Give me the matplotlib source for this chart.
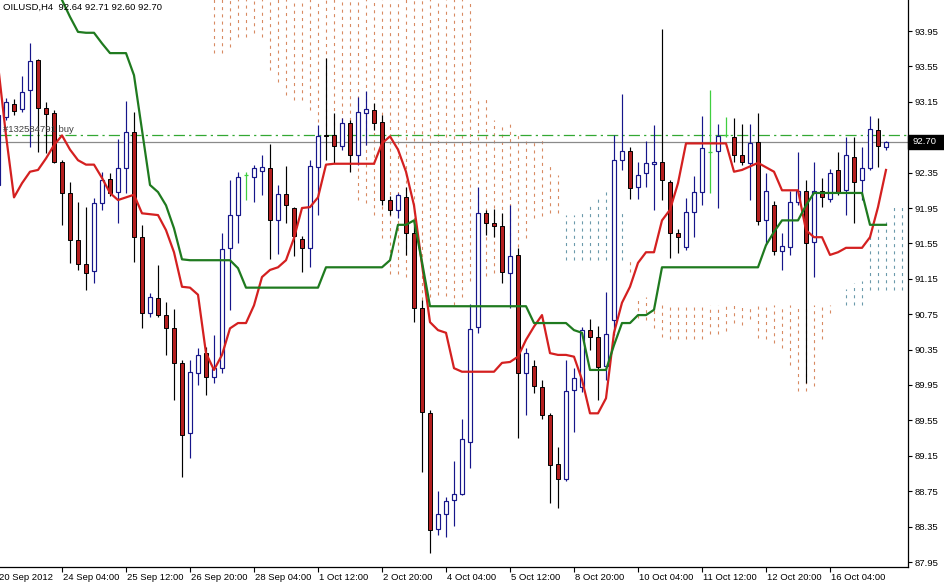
import numpy as np
import matplotlib
matplotlib.use("Agg")
import matplotlib.pyplot as plt
from matplotlib.patches import Rectangle
import matplotlib.transforms as mtransforms

plt.rcParams['font.family'] = ['Liberation Sans', 'DejaVu Sans']
plt.rcParams['lines.scale_dashes'] = False

# ---------------- data (OILUSD, H4) ----------------
symbol_header = "OILUSD,H4  92.64 92.71 92.60 92.70"
order_label = "#132584791 buy"
order_price = 92.77
last_price = 92.70

opens = [92.21, 92.98, 93.12, 93.07, 93.28, 93.62, 93.08, 93.02, 92.47, 92.12,
         91.59, 91.32, 91.24, 92.01, 92.28, 92.13, 92.40, 92.81, 91.62, 90.76,
         90.93, 90.74, 90.59, 90.20, 89.41, 90.09, 90.31, 90.04, 90.14, 91.50,
         91.87, 92.32, 92.30, 92.37, 92.40, 91.81, 92.11, 91.95, 91.60, 91.50,
         92.41, 92.77, 92.77, 92.65, 92.91, 92.55, 93.02, 93.06, 92.92, 92.04,
         91.93, 92.07, 91.67, 90.82, 89.63, 88.32, 88.49, 88.65, 88.72, 89.31,
         90.60, 91.89, 91.78, 91.75, 91.21, 91.42, 90.09, 90.16, 89.93, 89.61,
         89.06, 88.89, 89.89, 89.93, 90.57, 90.49, 90.16, 90.68, 92.49, 92.59,
         92.19, 92.34, 92.45, 92.47, 92.24, 91.67, 91.51, 91.90, 92.13, 92.58,
         92.59, 92.77, 92.75, 92.55, 92.46, 92.70, 91.81, 91.98, 91.46, 91.51,
         92.02, 92.14, 91.57, 92.14, 92.05, 92.38, 92.15, 92.53, 92.27, 92.40,
         92.83, 92.64]
highs = [93.03, 93.19, 93.18, 93.44, 93.81, 93.63, 93.15, 93.06, 92.49, 92.24,
         92.02, 91.96, 92.06, 92.36, 92.35, 92.73, 93.16, 93.03, 91.76, 90.99,
         91.31, 90.89, 90.81, 90.23, 90.23, 90.37, 90.38, 90.51, 91.67, 92.27,
         92.36, 92.36, 92.44, 92.55, 92.67, 92.21, 92.42, 91.96, 91.63, 92.49,
         92.89, 93.64, 93.02, 92.97, 92.94, 93.20, 93.27, 93.14, 93.00, 92.09,
         92.12, 92.19, 91.76, 90.91, 89.67, 88.75, 88.68, 89.09, 89.57, 90.86,
         92.19, 91.93, 91.94, 91.89, 91.98, 91.50, 90.37, 90.23, 90.01, 89.63,
         89.25, 90.23, 90.14, 90.60, 90.70, 90.62, 91.00, 92.77, 93.24, 92.64,
         92.47, 92.71, 92.89, 93.97, 92.27, 91.71, 92.06, 92.31, 92.99, 93.28,
         92.90, 92.98, 92.97, 92.90, 92.90, 93.02, 92.35, 92.03, 91.67, 92.14,
         92.58, 92.27, 92.47, 92.29, 92.39, 92.58, 92.75, 92.75, 92.64, 92.99,
         92.97, 92.71]
lows = [92.18, 92.94, 93.00, 93.03, 92.64, 92.58, 92.57, 92.46, 91.76, 91.33,
        91.25, 91.02, 91.10, 91.93, 92.09, 91.78, 92.12, 91.34, 90.59, 90.72,
        90.72, 90.29, 89.78, 88.91, 89.12, 89.95, 89.84, 89.97, 90.09, 90.80,
        91.55, 92.04, 92.02, 92.10, 91.37, 91.43, 91.78, 91.41, 91.23, 91.28,
        91.87, 92.49, 92.46, 92.60, 92.36, 92.44, 92.66, 92.83, 91.98, 91.87,
        91.84, 91.42, 90.66, 88.97, 88.05, 88.25, 88.23, 88.36, 88.71, 89.01,
        90.54, 91.64, 91.62, 91.10, 90.82, 89.35, 89.61, 89.86, 89.57, 88.62,
        88.56, 88.86, 89.42, 89.87, 90.35, 89.78, 90.01, 90.51, 92.38, 92.05,
        92.05, 92.19, 91.93, 92.04, 91.38, 91.44, 91.48, 91.62, 91.98, 92.12,
        91.95, 92.75, 92.47, 92.44, 92.04, 91.76, 91.53, 91.42, 91.25, 91.42,
        91.98, 89.97, 91.17, 91.96, 92.02, 92.10, 91.87, 91.78, 92.04, 92.38,
        92.41, 92.60]
closes = [93.00, 93.15, 93.05, 93.26, 93.61, 93.08, 93.01, 92.47, 92.12, 91.59,
          91.32, 91.21, 92.01, 92.27, 92.12, 92.40, 92.81, 91.62, 90.76, 90.94,
          90.74, 90.59, 90.20, 89.38, 90.10, 90.29, 90.04, 90.14, 91.49, 91.87,
          92.30, 92.32, 92.40, 92.41, 91.81, 92.11, 91.98, 91.63, 91.50, 92.42,
          92.76, 92.76, 92.65, 92.91, 92.55, 93.03, 93.07, 92.91, 92.04, 91.93,
          92.10, 91.67, 90.82, 89.64, 88.31, 88.49, 88.64, 88.72, 89.34, 90.58,
          91.89, 91.78, 91.75, 91.23, 91.41, 90.09, 90.31, 89.94, 89.61, 89.05,
          88.89, 89.88, 90.03, 90.57, 90.49, 90.15, 90.53, 92.49, 92.59, 92.18,
          92.32, 92.46, 92.47, 92.27, 91.67, 91.62, 91.90, 92.13, 92.63, 92.58,
          92.76, 92.77, 92.55, 92.47, 92.68, 91.80, 92.14, 91.46, 91.52, 92.02,
          92.14, 91.55, 92.14, 92.07, 92.34, 92.13, 92.55, 92.24, 92.40, 92.84,
          92.65, 92.70]

tenkan = [93.57, 92.77, 92.07, 92.23, 92.36, 92.38, 92.51, 92.66, 92.77, 92.61,
          92.49, 92.44, 92.44, 92.29, 92.12, 92.04, 92.07, 92.10, 91.89, 91.88,
          91.87, 91.70, 91.45, 91.06, 91.05, 90.97, 90.31, 90.12, 90.29, 90.59,
          90.65, 90.65, 90.85, 91.17, 91.25, 91.28, 91.36, 91.61, 91.95, 91.96,
          92.07, 92.44, 92.45, 92.45, 92.45, 92.45, 92.45, 92.45, 92.68, 92.76,
          92.61, 92.36, 91.98, 91.31, 90.66, 90.57, 90.54, 90.14, 90.10, 90.10,
          90.10, 90.10, 90.10, 90.20, 90.21, 90.27, 90.46, 90.61, 90.74, 90.31,
          90.29, 90.29, 90.27, 90.01, 89.63, 89.63, 89.80, 90.54, 90.88, 91.06,
          91.33, 91.45, 91.45, 91.81, 91.93, 92.23, 92.68, 92.68, 92.68, 92.68,
          92.68, 92.68, 92.36, 92.38, 92.42, 92.46, 92.41, 92.36, 92.15, 92.15,
          92.15, 91.70, 91.62, 91.62, 91.42, 91.45, 91.50, 91.50, 91.50, 91.62,
          91.96, 92.38]

kijun = [None, None, None, None, None, None, None, 94.48, 94.30, 94.11,
         93.94, 93.93, 93.93, 93.81, 93.70, 93.70, 93.70, 93.45, 92.83, 92.21,
         92.13, 91.98, 91.72, 91.37, 91.36, 91.36, 91.36, 91.36, 91.36, 91.36,
         91.27, 91.05, 91.05, 91.05, 91.05, 91.05, 91.05, 91.05, 91.05, 91.05,
         91.05, 91.28, 91.28, 91.28, 91.28, 91.28, 91.28, 91.28, 91.28, 91.36,
         91.76, 91.76, 91.81, 91.34, 90.84, 90.84, 90.84, 90.84, 90.84, 90.84,
         90.84, 90.84, 90.84, 90.84, 90.84, 90.84, 90.84, 90.65, 90.65, 90.65,
         90.65, 90.65, 90.57, 90.54, 90.12, 90.12, 90.12, 90.40, 90.65, 90.65,
         90.74, 90.74, 90.80, 91.28, 91.28, 91.28, 91.28, 91.28, 91.28, 91.28,
         91.28, 91.28, 91.28, 91.28, 91.28, 91.28, 91.53, 91.68, 91.81, 91.81,
         91.81, 91.98, 92.12, 92.12, 92.12, 92.12, 92.12, 92.12, 92.12, 91.76,
         91.76, 91.76]

# Senkou spans (cloud), shifted 26 bars ahead -> extends past the last candle
span_a = [None] * 27 + [
    93.70, 93.70, 93.77, 93.88, 93.88, 93.93, 93.88, 93.51, 93.37, 93.23,
    93.17, 93.17, 93.06, 92.92, 92.88, 92.89, 92.77, 92.37, 92.04, 92.01,
    91.87, 91.61, 91.20, 91.20, 91.17, 90.91, 90.91, 90.94, 90.97, 90.96,
    90.85, 90.94, 91.12, 91.25, 91.18, 91.22, 91.36, 91.47, 91.51, 91.61,
    91.84, 91.86, 91.89, 91.89, 91.87, 91.87, 91.89, 92.01, 92.06, 92.18,
    92.10, 91.93, 91.23, 90.71, 90.68, 90.59, 90.49, 90.47, 90.47, 90.47,
    90.47, 90.47, 90.53, 90.53, 90.56, 90.65, 90.63, 90.70, 90.48, 90.47,
    90.42, 90.37, 90.18, 89.88, 89.88, 89.94, 90.47, 90.76, 90.85, 91.03,
    91.10, 91.12, 91.64, 91.72, 91.84, 91.98, 91.98]
span_b = [None] * 27 + [
    94.60, 94.60, 94.60, 94.60, 94.60, 94.60, 94.60, 94.60, 94.60, 94.60,
    94.60, 94.60, 94.60, 94.60, 94.60, 94.60, 94.60, 94.60, 94.60, 94.60,
    94.60, 94.60, 94.60, 94.60, 94.60, 94.60, 94.60, 94.60, 94.60, 94.60,
    94.60, 94.60, 94.60, 93.20, 93.20, 92.94, 92.91, 92.91, 92.80, 92.75,
    92.72, 92.72, 92.44, 92.32, 91.36, 91.36, 91.36, 91.36, 91.36, 91.36,
    91.36, 91.36, 91.36, 90.94, 90.94, 90.85, 90.85, 90.85, 90.85, 90.85,
    90.85, 90.85, 90.85, 90.85, 90.85, 90.85, 90.85, 90.85, 90.85, 90.85,
    90.85, 90.85, 90.85, 90.85, 90.85, 90.85, 90.85, 90.85, 90.85, 90.85,
    90.85, 90.85, 91.02, 91.02, 91.02, 91.02, 91.02]

time_tick_bars = [8, 16, 24, 32, 40, 48, 56, 64, 72, 80, 88, 96, 104]
time_tick_labels = ["24 Sep 04:00", "25 Sep 12:00", "26 Sep 20:00", "28 Sep 04:00",
                    "1 Oct 12:00", "2 Oct 20:00", "4 Oct 04:00", "5 Oct 12:00",
                    "8 Oct 20:00", "10 Oct 04:00", "11 Oct 12:00", "12 Oct 20:00",
                    "16 Oct 04:00"]
first_date_label = "20 Sep 2012"
price_ticks = [93.95, 93.55, 93.15, 92.75, 92.35, 91.95, 91.55, 91.15,
               90.75, 90.35, 89.95, 89.55, 89.15, 88.75, 88.35, 87.95]

# ---------------- styling ----------------
W, H = 945, 583
AX_W, AX_H = 908, 567
BULL_EDGE = "#16168a"
BEAR_FILL = "#b41f1f"
DOJI = "#3fcf3f"
TENKAN = "#d42020"
KIJUN = "#1f7a1f"
CLOUD_DN = "#d88a62"
CLOUD_UP = "#6b9aab"
FS = 6.8

fig = plt.figure(figsize=(W / 100, H / 100), dpi=100)
fig.patch.set_facecolor("white")
ax = fig.add_axes([0, (H - AX_H) / H, AX_W / W, AX_H / H])
ax.set_facecolor("white")
ax.set_xlim(0.25, 113.75)
ax.set_ylim(87.95 - 5 / 88.5, 87.95 + 562 / 88.5)

for s in ["left", "top"]:
    ax.spines[s].set_visible(False)
for s in ["right", "bottom"]:
    ax.spines[s].set_color("black")
    ax.spines[s].set_linewidth(0.9)

# cloud as dotted verticals
up_x, up_lo, up_hi, dn_x, dn_lo, dn_hi = [], [], [], [], [], []
for k, (a, b) in enumerate(zip(span_a, span_b)):
    if a is None or b is None or a == b:
        continue
    if a > b:
        up_x.append(k); up_lo.append(b); up_hi.append(a)
    else:
        dn_x.append(k); dn_lo.append(a); dn_hi.append(b)
ax.vlines(dn_x, dn_lo, dn_hi, colors=CLOUD_DN, linewidth=0.8,
          linestyles=[(0, (2.2, 3.0))], zorder=1)
ax.vlines(up_x, up_lo, up_hi, colors=CLOUD_UP, linewidth=0.8,
          linestyles=[(0, (2.2, 3.0))], zorder=1)

# order line & current price line
ax.axhline(order_price, color="#33a833", linewidth=0.9,
           linestyle=(0, (8, 3, 1.6, 3)), zorder=1.5)
ax.axhline(last_price, color="#8a8a8a", linewidth=0.9, zorder=1.5)
ax.annotate(order_label, xy=(0.6, order_price), xytext=(0, 1.2),
            textcoords="offset points", ha="left", va="bottom",
            fontsize=FS, color="#404040", zorder=6)

# candles
bw = 0.58
for k, (o, h, l, c) in enumerate(zip(opens, highs, lows, closes)):
    if c > o:
        ax.vlines(k, l, h, colors=BULL_EDGE, linewidth=0.85, zorder=2)
        ax.add_patch(Rectangle((k - bw / 2, o), bw, c - o, facecolor="white",
                               edgecolor=BULL_EDGE, linewidth=0.85, zorder=3))
    elif c < o:
        ax.vlines(k, l, h, colors="black", linewidth=0.85, zorder=2)
        ax.add_patch(Rectangle((k - bw / 2, c), bw, o - c, facecolor=BEAR_FILL,
                               edgecolor="black", linewidth=0.7, zorder=3))
    else:
        ax.vlines(k, l, h, colors=DOJI, linewidth=0.9, zorder=3)
        ax.hlines(o, k - bw / 2, k + bw / 2, colors=DOJI, linewidth=0.9, zorder=3)

bars = np.arange(len(tenkan))
ax.plot(bars, tenkan, color=TENKAN, linewidth=1.6, zorder=4, solid_joinstyle="round")
kij = np.array([np.nan if v is None else v for v in kijun], dtype=float)
ax.plot(np.arange(len(kij)), kij, color=KIJUN, linewidth=1.6, zorder=4,
        solid_joinstyle="round")

# x axis ticks / labels
ax.set_xticks(time_tick_bars)
ax.set_xticklabels([])
ax.tick_params(axis="x", direction="out", length=3.8, width=0.8, color="black")
trans_x = mtransforms.blended_transform_factory(ax.transData, fig.transFigure)
for k, lab in zip(time_tick_bars, time_tick_labels):
    ax.text(k + 0.15, (H - 577) / H, lab, transform=trans_x, ha="left",
            va="center", fontsize=FS, color="black", clip_on=False)
fig.text(-1 / W, (H - 577) / H, first_date_label, ha="left", va="center",
         fontsize=FS, color="black")

# y axis on right
ax.yaxis.tick_right()
ax.set_yticks(price_ticks)
ax.set_yticklabels([f"{p:.2f}" for p in price_ticks])
ax.tick_params(axis="y", direction="out", length=3, width=0.8, pad=2,
               labelsize=FS, labelcolor="black", color="black")

# current price box (covers the 92.75 label as in the terminal)
trans_y = mtransforms.blended_transform_factory(ax.transAxes, ax.transData)
ax.add_patch(Rectangle((1.0, last_price - 7 / 88.5), 37 / AX_W, 14 / 88.5,
                       transform=trans_y, facecolor="black", edgecolor="black",
                       clip_on=False, zorder=10))
ax.text(1.0 + 5 / AX_W, last_price, f"{last_price:.2f}", transform=trans_y,
        ha="left", va="center", fontsize=FS, color="white", clip_on=False,
        zorder=11)

fig.text(3 / W, 1 - 7 / H, symbol_header, ha="left", va="center",
         fontsize=FS, color="black")

fig.savefig("out.png", dpi=100, facecolor="white")
